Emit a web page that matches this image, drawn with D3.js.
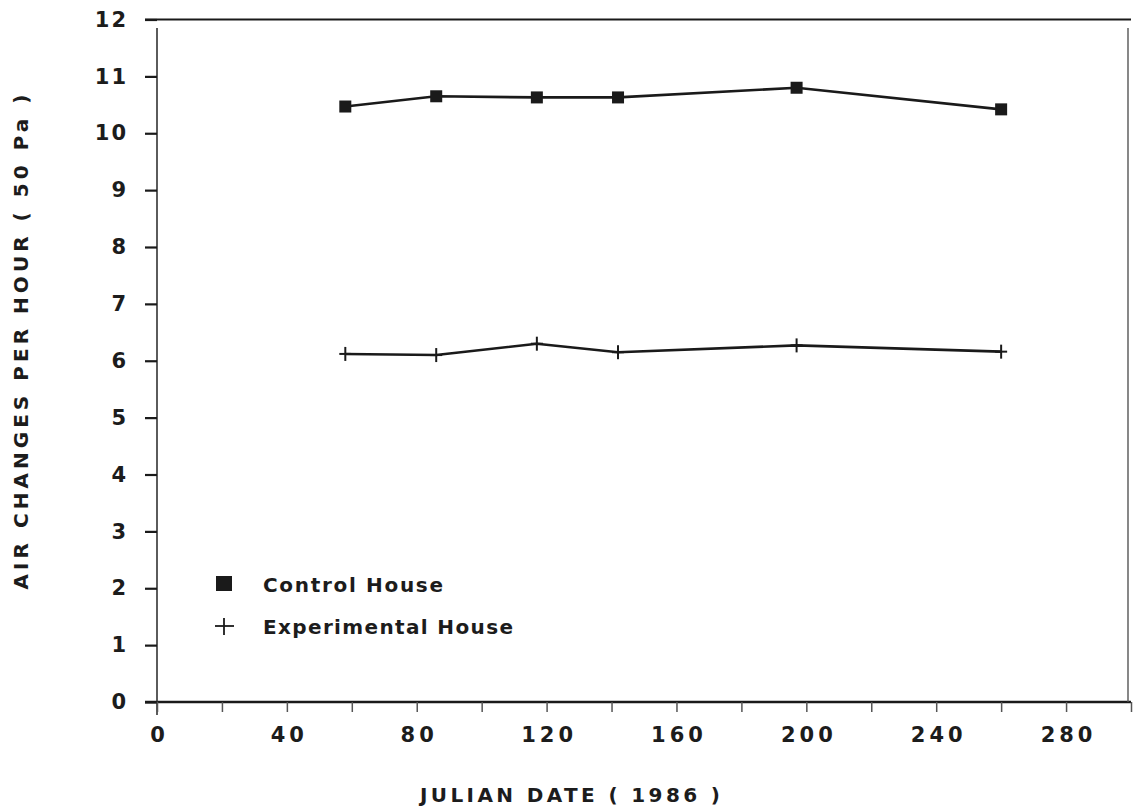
<!DOCTYPE html>
<html>
<head>
<meta charset="utf-8">
<script src="https://cdn.jsdelivr.net/npm/d3@7"></script>
<style>
  body { margin: 0; background: #fff; }
  svg text { font-family: "DejaVu Sans", Arial, sans-serif; font-weight: bold; fill: #1c1c1c; }
</style>
</head>
<body>
<div id="chart"></div>
<script>
// julian dates of the measurements (1986)
const dates = [58, 86, 117, 142, 197, 260];
const controlHouse = [10.47, 10.65, 10.63, 10.63, 10.80, 10.42];
const experimentalHouse = [6.12, 6.10, 6.30, 6.15, 6.27, 6.16];
const seriesNames = ['Control House', 'Experimental House'];
const xLabelTicks = [0, 40, 80, 120, 160, 200, 240, 280];
const xMinorTicks = d3.range(0, 301, 20);
const yTicks = d3.range(0, 13, 1);

const width = 1134, height = 811;
const svg = d3.select('#chart').append('svg')
  .attr('width', width)
  .attr('height', height);

const x = d3.scaleLinear().domain([0, 300]).range([157, 1131]);
const y = d3.scaleLinear().domain([0, 12]).range([702, 19.5]);

const ink = '#1a1a1a';

// frame
svg.append('line')
  .attr('x1', 145).attr('x2', x(300))
  .attr('y1', y(12)).attr('y2', y(12))
  .attr('stroke', ink).attr('stroke-width', 2.2);
svg.append('line')
  .attr('x1', 145).attr('x2', x(300))
  .attr('y1', y(0)).attr('y2', y(0))
  .attr('stroke', ink).attr('stroke-width', 2.4);
svg.append('line')
  .attr('x1', x(0)).attr('x2', x(0))
  .attr('y1', 28).attr('y2', 715)
  .attr('stroke', '#333').attr('stroke-width', 1.6);
svg.append('line')
  .attr('x1', 1128).attr('x2', 1128)
  .attr('y1', 28).attr('y2', y(0))
  .attr('stroke', '#555').attr('stroke-width', 1.4);

// y axis
const yAxis = svg.append('g')
  .attr('transform', 'translate(' + x(0) + ',0)')
  .call(d3.axisLeft(y).tickValues(yTicks).tickSize(12).tickPadding(19).tickFormat(d3.format('d')));
yAxis.select('.domain').remove();
yAxis.selectAll('line').attr('stroke', ink).attr('stroke-width', 2.2);
yAxis.selectAll('text')
  .attr('font-size', 21)
  .attr('letter-spacing', 2)
  .attr('dx', 2)
  .attr('fill', '#1c1c1c');

// x axis minor ticks
const xMinor = svg.append('g')
  .attr('transform', 'translate(0,' + y(0) + ')')
  .call(d3.axisBottom(x).tickValues(xMinorTicks).tickSize(10).tickFormat(''));
xMinor.select('.domain').remove();
xMinor.selectAll('line').attr('stroke', '#555').attr('stroke-width', 1.5);

// x axis labels
const xAxis = svg.append('g')
  .attr('transform', 'translate(0,' + y(0) + ')')
  .call(d3.axisBottom(x).tickValues(xLabelTicks).tickSize(0).tickPadding(25).tickFormat(d3.format('d')));
xAxis.select('.domain').remove();
xAxis.selectAll('text')
  .attr('font-size', 21)
  .attr('letter-spacing', 4)
  .attr('dx', 2)
  .attr('fill', '#1c1c1c');

// axis titles
svg.append('text')
  .attr('x', 570).attr('y', 802)
  .attr('text-anchor', 'middle')
  .attr('font-size', 20)
  .attr('textLength', 300)
  .attr('lengthAdjust', 'spacing')
  .text('JULIAN DATE ( 1986 )');

svg.append('text')
  .attr('transform', 'translate(28,342) rotate(-90)')
  .attr('text-anchor', 'middle')
  .attr('font-size', 20)
  .attr('textLength', 495)
  .attr('lengthAdjust', 'spacing')
  .text('AIR CHANGES PER HOUR ( 50 Pa )');

// lines
const line = d3.line()
  .x(d => x(d[0]))
  .y(d => y(d[1]));

const controlPts = dates.map((d, i) => [d, controlHouse[i]]);
const expPts = dates.map((d, i) => [d, experimentalHouse[i]]);

svg.append('path')
  .datum(controlPts)
  .attr('d', line)
  .attr('fill', 'none')
  .attr('stroke', ink)
  .attr('stroke-width', 2.6);

svg.append('path')
  .datum(expPts)
  .attr('d', line)
  .attr('fill', 'none')
  .attr('stroke', ink)
  .attr('stroke-width', 2.6);

// markers
const sq = 12;
svg.selectAll('.sq')
  .data(controlPts)
  .enter().append('rect')
  .attr('class', 'sq')
  .attr('x', d => x(d[0]) - sq / 2)
  .attr('y', d => y(d[1]) - sq / 2)
  .attr('width', sq)
  .attr('height', sq)
  .attr('fill', ink);

const plus = svg.selectAll('.plus')
  .data(expPts)
  .enter().append('g')
  .attr('class', 'plus')
  .attr('transform', d => 'translate(' + x(d[0]) + ',' + y(d[1]) + ')');
plus.append('line').attr('x1', 0).attr('x2', 0).attr('y1', -7).attr('y2', 7)
  .attr('stroke', ink).attr('stroke-width', 2);
plus.append('line').attr('x1', -6).attr('x2', 6).attr('y1', 0).attr('y2', 0)
  .attr('stroke', ink).attr('stroke-width', 2);

// legend
const legend = svg.selectAll('.legend')
  .data(seriesNames)
  .enter().append('g')
  .attr('class', 'legend')
  .attr('transform', (d, i) => 'translate(224,' + (584 + i * 42) + ')');

legend.filter((d, i) => i === 0).append('rect')
  .attr('x', -8).attr('y', -8)
  .attr('width', 16).attr('height', 15)
  .attr('fill', ink);

const lp = legend.filter((d, i) => i === 1);
lp.append('line').attr('x1', -9).attr('x2', 10).attr('y1', 0).attr('y2', 0)
  .attr('stroke', ink).attr('stroke-width', 1.8);
lp.append('line').attr('x1', 0).attr('x2', 0).attr('y1', -8).attr('y2', 9)
  .attr('stroke', ink).attr('stroke-width', 1.8);

legend.append('text')
  .attr('x', 39)
  .attr('y', 8)
  .attr('font-size', 20)
  .attr('textLength', (d, i) => i === 0 ? 180 : 250)
  .attr('lengthAdjust', 'spacing')
  .text(d => d);
</script>
</body>
</html>
